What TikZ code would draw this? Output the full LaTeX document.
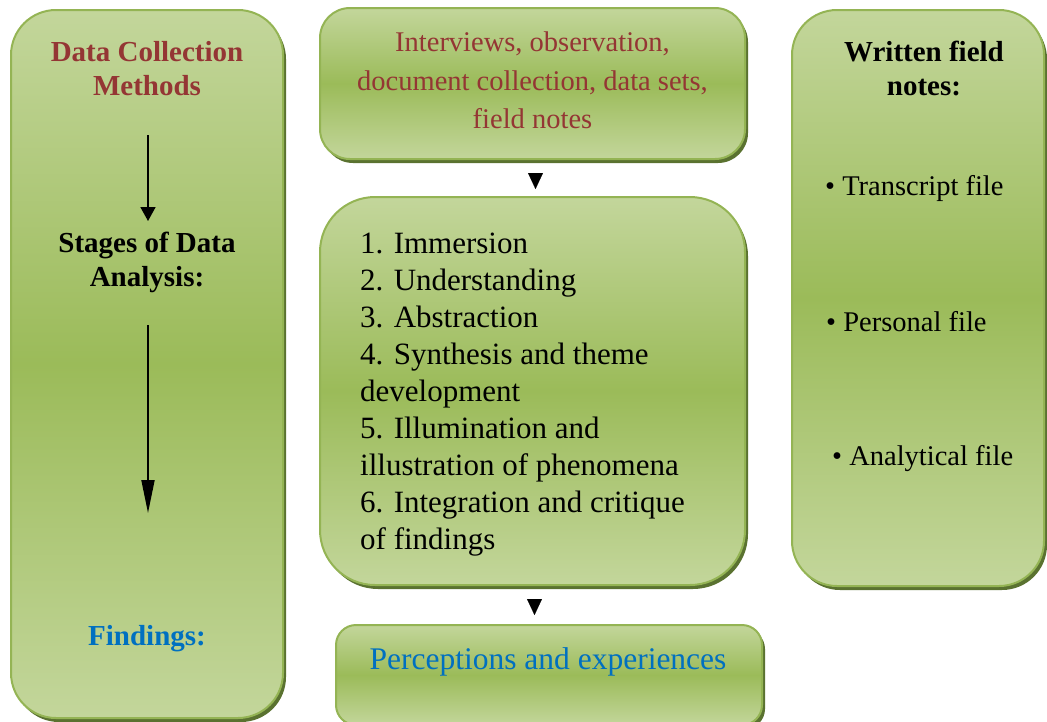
\documentclass[tikz,border=0pt]{standalone}
\usepackage{fontspec}
\setmainfont{Liberation Serif}
\usetikzlibrary{shadows,arrows.meta}
\definecolor{gLight}{HTML}{C3D69B}
\definecolor{gDark}{HTML}{9BBB59}
\definecolor{gEdge}{HTML}{94B454}
\definecolor{gShadow}{HTML}{5A7230}
\definecolor{tRed}{HTML}{943634}
\definecolor{tBlue}{HTML}{0070C0}
\begin{document}
\begin{tikzpicture}[x=1pt,y=-1pt,
  gbox/.style={draw=gEdge, line width=2pt, top color=gLight, bottom color=gLight,
    middle color=gDark, inner sep=0pt,
    drop shadow={shadow xshift=3pt, shadow yshift=-4pt, fill=gShadow, opacity=1}},
  head/.style={font=\fontsize{29}{34}\selectfont\bfseries, align=center, inner sep=0pt},
  body/.style={font=\fontsize{28.5}{38.5}\selectfont, align=center, inner sep=0pt},
  listtxt/.style={font=\fontsize{31}{37}\selectfont, align=left, inner sep=0pt},
  bullet/.style={font=\fontsize{28.5}{34}\selectfont, anchor=west, inner sep=0pt},
  inarrow/.style={line width=1.8pt, -{Triangle[length=14pt,width=15pt]}},
  longarrow/.style={line width=1.8pt, -{Triangle[length=33pt,width=13pt]}},
  tri/.style={-{Triangle[length=16pt,width=15pt]}, line width=0.1pt}
]
\useasboundingbox (0,0) rectangle (1047,721);
% boxes
\node[gbox, rounded corners=45pt, minimum width=272pt, minimum height=708pt] (left) at (147,364) {};
\node[gbox, rounded corners=30pt, minimum width=425pt, minimum height=151pt] (top) at (532.5,83.5) {};
\node[gbox, rounded corners=55pt, minimum width=425pt, minimum height=388pt] (mid) at (532.5,391) {};
\node[gbox, rounded corners=45pt, minimum width=252pt, minimum height=576pt] (right) at (918,298) {};
\node[gbox, rounded corners=20pt, minimum width=426pt, minimum height=100pt] (bot) at (549,675) {};
% left texts
\node[head, text=tRed] (dcm) at (147,68.5) {Data Collection\\Methods};
\node[head] (stages) at (147,262.5) {Stages of Data\\Analysis:};
\node[head, text=tBlue] (find) at (147,639) {Findings:};
\coordinate (a1s) at (148,135);
\coordinate (a1e) at (148,221);
\coordinate (a2s) at (148,325);
\coordinate (a2e) at (148,513);
\draw[inarrow] (a1s) -- (a1e);
\draw[longarrow] (a2s) -- (a2e);
% top box text
\node[body, text=tRed] (toptxt) at (532.5,80.5) {Interviews, observation,\\document collection, data sets,\\field notes};
% middle list
\node[listtxt, anchor=west] (list) at (360,395) {1. Immersion\\2. Understanding\\3. Abstraction\\4. Synthesis and theme\\development\\5. Illumination and\\illustration of phenomena\\6. Integration and critique\\of findings};
% right texts
\node[head] (wfn) at (924,68) {Written field\\notes:};
\node[bullet] (b1) at (825,188) {• Transcript file};
\node[bullet] (b2) at (826,321.5) {• Personal file};
\node[bullet] (b3) at (832,459) {• Analytical file};
% bottom text
\node[font=\fontsize{31.5}{36}\selectfont, text=tBlue, inner sep=0pt] (perc) at (548,662) {Perceptions and experiences};
% triangles between boxes
\coordinate (t1s) at (535.5,173);
\coordinate (t1e) at (535.5,189);
\coordinate (t2s) at (534.5,599);
\coordinate (t2e) at (534.5,615);
\draw[tri] (t1s) -- (t1e);
\draw[tri] (t2s) -- (t2e);
\end{tikzpicture}
\end{document}
